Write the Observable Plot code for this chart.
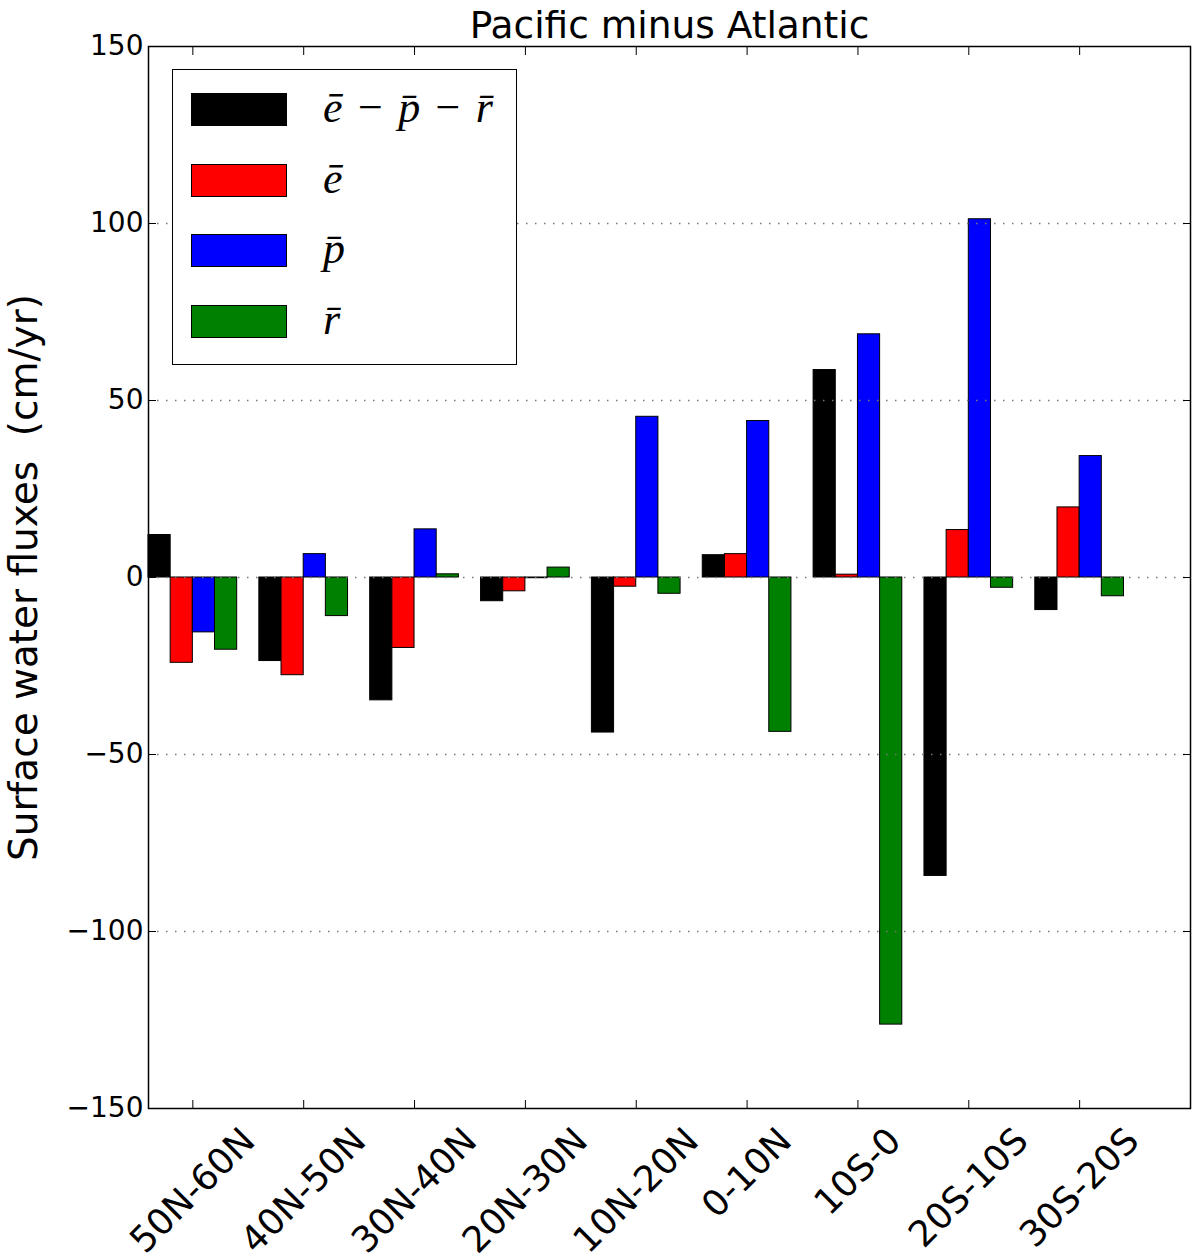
<!DOCTYPE html>
<html>
<head>
<meta charset="utf-8">
<script src="https://cdn.jsdelivr.net/npm/d3@7"></script>
<script src="https://cdn.jsdelivr.net/npm/@observablehq/plot@0.6"></script>
<style>
  html, body { margin: 0; padding: 0; background: #fff; }
  #wrap { position: relative; width: 1200px; height: 1259px; }
  svg text { white-space: pre; }
  #legend { position: absolute; left: 172px; top: 69px; width: 345px; height: 296px;
            box-sizing: border-box; border: 1.5px solid #000; background: #fff; }
  .sw { position: absolute; left: 18px; width: 96px; height: 33px; box-sizing: border-box; border: 1px solid #000; }
  .lt { position: absolute; left: 150px; height: 33px; line-height: 33px; white-space: nowrap;
        font-family: "Liberation Serif", serif; font-style: italic; font-size: 44px; color: #000; }
  .lt .op { font-style: normal; margin: 0 0.35em; }
</style>
</head>
<body>
<div id="wrap"></div>
<script>
// ---------------- data ----------------
const regions = ["50N-60N", "40N-50N", "30N-40N", "20N-30N", "10N-20N", "0-10N", "10S-0", "20S-10S", "30S-20S"];
const seriesKeys = ["e-p-r", "e", "p", "r"];
const seriesColors = ["#000000", "#ff0000", "#0000ff", "#008000"];
const seriesLabels = ["e\u0304\u2212p\u0304\u2212r\u0304", "e\u0304", "p\u0304", "r\u0304"];
const valuesEPR = [12.0, -23.6, -34.7, -6.7, -43.8, 6.3, 58.6, -84.3, -9.2];
const valuesE   = [-24.1, -27.6, -19.9, -3.9, -2.6, 6.6, 0.8, 13.4, 19.8];
const valuesP   = [-15.5, 6.6, 13.6, -0.2, 45.4, 44.2, 68.7, 101.2, 34.3];
const valuesR   = [-20.4, -10.9, 0.9, 2.8, -4.6, -43.6, -126.3, -2.9, -5.3];
const yTicks = [-150, -100, -50, 0, 50, 100, 150];
const gridTicks = [-100, -50, 0, 50, 100];
const titleText = "Pacific minus Atlantic";
const yLabelText = "Surface water fluxes  (cm/yr)";

const seriesValues = [valuesEPR, valuesE, valuesP, valuesR];
const bars = regions.flatMap((r, i) => seriesKeys.map((s, k) => ({i, k, r, s, v: seriesValues[k][i]})));
const barW = 0.2;

const xFont = 36;
const ctx = document.createElement("canvas").getContext("2d");
ctx.font = `${xFont}px "DejaVu Sans"`;
const xLabelMarks = regions.map((r, i) => {
  const L = ctx.measureText(r).width;
  const dy = 17 + Math.SQRT1_2 * (L + 0.73 * xFont) / 2;
  return Plot.text([{i, r}], {x: "i", text: "r", frameAnchor: "bottom", dy, rotate: -45,
    textAnchor: "middle", lineAnchor: "middle", fontSize: xFont, fill: "#000"});
});

const fmt = d => d < 0 ? "\u2212" + Math.abs(d) : String(d);

const chart = Plot.plot({
  width: 1200, height: 1259,
  marginLeft: 148, marginRight: 10, marginTop: 46, marginBottom: 151,
  x: {type: "linear", domain: [-0.4, 9]},
  y: {domain: [-150, 150]},
  color: {domain: seriesKeys, range: seriesColors},
  style: {fontFamily: "DejaVu Sans", color: "#000", background: "#fff", overflow: "visible"},
  marks: [
    Plot.rectY(bars, {
      x1: d => d.i - 0.4 + barW * d.k,
      x2: d => d.i - 0.4 + barW * (d.k + 1),
      y1: 0, y2: "v", fill: "s", stroke: "#000", strokeWidth: 1
    }),
    Plot.gridY(gridTicks, {stroke: "#777", strokeOpacity: 1, strokeWidth: 1.5, strokeDasharray: "1.5,7.5"}),
    Plot.frame({stroke: "#000", strokeWidth: 1.5}),
    Plot.axisY({anchor: "left", ticks: yTicks, tickSize: -8, tickPadding: 13, tickFormat: fmt, fontSize: 28, label: null}),
    Plot.axisY({anchor: "right", ticks: yTicks, tickSize: -8, tickFormat: () => "", label: null}),
    Plot.axisX({anchor: "bottom", ticks: d3.range(regions.length), tickSize: -8, tickFormat: () => "", label: null}),
    Plot.axisX({anchor: "top", ticks: d3.range(regions.length), tickSize: -8, tickFormat: () => "", label: null}),
    ...xLabelMarks,
    Plot.text([titleText], {frameAnchor: "top", dy: -9, lineAnchor: "bottom", textAnchor: "middle", fontSize: 37.5, fill: "#000"}),
    Plot.text([yLabelText], {frameAnchor: "left", dx: -124, rotate: -90, textAnchor: "middle", lineAnchor: "middle", fontSize: 39, fill: "#000"})
  ]
});

const wrap = document.getElementById("wrap");
wrap.appendChild(chart);

// legend
const legend = document.createElement("div");
legend.id = "legend";
seriesKeys.forEach((s, k) => {
  const top = 23 + k * 70.7;
  const sw = document.createElement("div");
  sw.className = "sw";
  sw.style.top = top + "px";
  sw.style.background = seriesColors[k];
  legend.appendChild(sw);
  const lt = document.createElement("div");
  lt.className = "lt";
  lt.style.top = (top - 2) + "px";
  lt.innerHTML = seriesLabels[k].split("\u2212").join('<span class="op">\u2212</span>');
  legend.appendChild(lt);
});
wrap.appendChild(legend);
</script>
</body>
</html>
